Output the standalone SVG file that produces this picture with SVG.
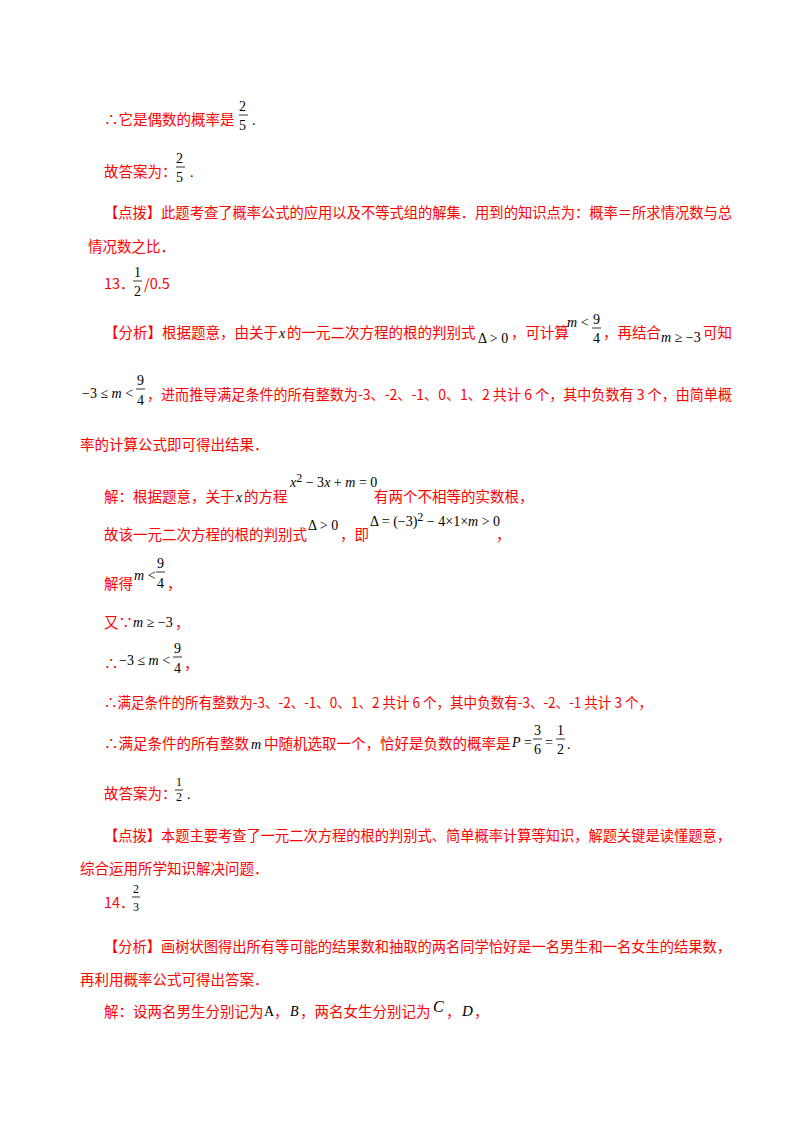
<svg xmlns="http://www.w3.org/2000/svg" width="800" height="1132" viewBox="0 0 800 1132">
<style>
.t{font-family:"Noto Sans CJK SC","Liberation Sans",sans-serif;font-size:14.5px;fill:#ff0000}
.m{font-family:"Liberation Serif",serif;font-size:14px;fill:#000}
.i{font-style:italic}
.s{font-size:12px}
.l{stroke:#000;stroke-width:0.8}
</style>
<rect width="800" height="1132" fill="#fff"/>
<g id="content">
<text class="t" x="104" y="125">∴它是偶数的概率是</text>
<text class="m" x="239" y="111">2</text><line class="l" x1="239" y1="115" x2="248" y2="115"/><text class="m" x="239" y="130">5</text>
<text class="m" x="252" y="125">.</text>

<text class="t" x="104" y="177">故答案为：</text>
<text class="m" x="176" y="163">2</text><line class="l" x1="176" y1="167" x2="185" y2="167"/><text class="m" x="176" y="182">5</text>
<text class="m" x="190" y="177">.</text>

<text class="t" x="104" y="218" textLength="628" lengthAdjust="spacingAndGlyphs">【点拨】此题考查了概率公式的应用以及不等式组的解集．用到的知识点为：概率＝所求情况数与总</text>
<text class="t" x="88" y="252">情况数之比．</text>

<text class="t" x="104" y="289">13．</text>
<text class="m" x="134" y="277">1</text><line class="l" x1="133" y1="281" x2="142" y2="281"/><text class="m" x="134" y="296">2</text>
<text class="t" x="144" y="289">/0.5</text>

<text class="t" x="104" y="338">【分析】根据题意，由关于</text>
<text class="m i" x="279" y="338">x</text>
<text class="t" x="287" y="338">的一元二次方程的根的判别式</text>
<text class="m" x="478" y="343">Δ &gt; 0</text>
<text class="t" x="511" y="338">，可计算</text>
<text class="m" x="567" y="327"><tspan class="i">m</tspan> &lt;</text>
<text class="m" x="593" y="324">9</text><line class="l" x1="592" y1="328" x2="601" y2="328"/><text class="m" x="593" y="343">4</text>
<text class="t" x="603" y="338">，再结合</text>
<text class="m" x="661" y="342"><tspan class="i">m</tspan> ≥ −3</text>
<text class="t" x="703" y="338">可知</text>

<text class="m" x="82" y="398">−3 ≤ <tspan class="i">m</tspan> &lt;</text>
<text class="m" x="137" y="385">9</text><line class="l" x1="136" y1="389" x2="145" y2="389"/><text class="m" x="137" y="405">4</text>
<text class="t" x="147" y="400" textLength="585" lengthAdjust="spacingAndGlyphs">，进而推导满足条件的所有整数为-3、-2、-1、0、1、2 共计 6 个，其中负数有 3 个，由简单概</text>
<text class="t" x="80" y="450">率的计算公式即可得出结果．</text>

<text class="t" x="104" y="502">解：根据题意，关于</text>
<text class="m i" x="236" y="502">x</text>
<text class="t" x="244" y="502">的方程</text>
<text class="m" x="290" y="487"><tspan class="i">x</tspan><tspan class="s" dy="-5">2</tspan><tspan dy="5"> − 3<tspan class="i">x</tspan> + <tspan class="i">m</tspan> = 0</tspan></text>
<text class="t" x="374" y="502">有两个不相等的实数根，</text>

<text class="t" x="104" y="540">故该一元二次方程的根的判别式</text>
<text class="m" x="308" y="530">Δ &gt; 0</text>
<text class="t" x="340" y="540">，即</text>
<text class="m" x="370" y="526">Δ = (−3)<tspan class="s" dy="-5">2</tspan><tspan dy="5"> − 4×1×<tspan class="i">m</tspan> &gt; 0</tspan></text>
<text class="t" x="496" y="540">，</text>

<text class="t" x="104" y="589">解得</text>
<text class="m" x="134" y="580"><tspan class="i">m</tspan> &lt;</text>
<text class="m" x="157" y="568">9</text><line class="l" x1="156" y1="572" x2="165" y2="572"/><text class="m" x="157" y="588">4</text>
<text class="t" x="167" y="589">，</text>

<text class="t" x="104" y="628">又∵</text>
<text class="m" x="133" y="627"><tspan class="i">m</tspan> ≥ −3</text>
<text class="t" x="175" y="628">，</text>

<text class="t" x="104" y="669">∴</text>
<text class="m" x="119" y="665">−3 ≤ <tspan class="i">m</tspan> &lt;</text>
<text class="m" x="174" y="653">9</text><line class="l" x1="173" y1="657" x2="182" y2="657"/><text class="m" x="174" y="673">4</text>
<text class="t" x="184" y="669">，</text>

<text class="t" x="104" y="708" textLength="548" lengthAdjust="spacingAndGlyphs">∴满足条件的所有整数为-3、-2、-1、0、1、2 共计 6 个，其中负数有-3、-2、-1 共计 3 个，</text>

<text class="t" x="104" y="749">∴满足条件的所有整数</text>
<text class="m i" x="251" y="749">m</text>
<text class="t" x="264" y="749">中随机选取一个，恰好是负数的概率是</text>
<text class="m" x="512" y="747"><tspan class="i">P</tspan> =</text>
<text class="m" x="534" y="735">3</text><line class="l" x1="533" y1="739" x2="542" y2="739"/><text class="m" x="534" y="754">6</text>
<text class="m" x="545" y="747">=</text>
<text class="m" x="557" y="735">1</text><line class="l" x1="556" y1="739" x2="565" y2="739"/><text class="m" x="557" y="754">2</text>
<text class="m" x="567" y="749">.</text>

<text class="t" x="104" y="799">故答案为：</text>
<text class="m s" x="176" y="786">1</text><line class="l" x1="175" y1="790" x2="183" y2="790"/><text class="m s" x="176" y="801">2</text>
<text class="m" x="187" y="799">.</text>

<text class="t" x="104" y="841" textLength="627" lengthAdjust="spacingAndGlyphs">【点拨】本题主要考查了一元二次方程的根的判别式、简单概率计算等知识，解题关键是读懂题意，</text>
<text class="t" x="80" y="874">综合运用所学知识解决问题．</text>

<text class="t" x="104" y="908">14．</text>
<text class="m s" x="133" y="893">2</text><line class="l" x1="132" y1="897" x2="140" y2="897"/><text class="m s" x="133" y="911">3</text>

<text class="t" x="104" y="952" textLength="627" lengthAdjust="spacingAndGlyphs">【分析】画树状图得出所有等可能的结果数和抽取的两名同学恰好是一名男生和一名女生的结果数，</text>
<text class="t" x="80" y="985">再利用概率公式可得出答案．</text>

<text class="t" x="104" y="1017">解：设两名男生分别记为</text>
<text class="m" x="264" y="1016">A</text>
<text class="t" x="274" y="1017">，</text>
<text class="m i" x="290" y="1016">B</text>
<text class="t" x="300" y="1017">，两名女生分别记为</text>
<text class="m i" x="433" y="1012" style="font-size:16px">C</text>
<text class="t" x="446" y="1017">，</text>
<text class="m i" x="462" y="1016" style="font-size:15px">D</text>
<text class="t" x="474" y="1017">，</text>
</g>
</svg>
